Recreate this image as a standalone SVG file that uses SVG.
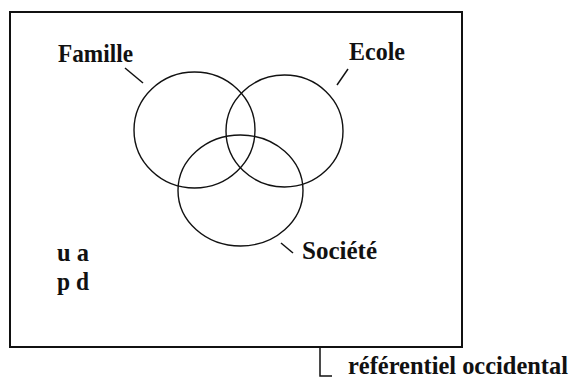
<svg xmlns="http://www.w3.org/2000/svg" width="573" height="378" viewBox="0 0 573 378">
<style>
.lbl{font-family:'Liberation Serif',serif;font-weight:bold;font-size:26px;fill:#111}
.set{fill:none;stroke:#111;stroke-width:1.4}
.tick{fill:none;stroke:#111;stroke-width:1.5}
.frame{fill:none;stroke:#111;stroke-width:2}
</style>
<rect width="573" height="378" fill="#fff"/>
<g id="frame"><rect class="frame" x="10" y="12" width="452" height="335"/></g>
<g id="famille">
<ellipse class="set" cx="194.5" cy="130" rx="60.5" ry="58"/>
<text class="lbl" x="58" y="62" textLength="75" lengthAdjust="spacingAndGlyphs">Famille</text>
</g>
<g id="ecole">
<ellipse class="set" cx="284.5" cy="131" rx="58.5" ry="56"/>
<text class="lbl" x="349" y="60" textLength="56" lengthAdjust="spacingAndGlyphs">Ecole</text>
</g>
<g id="societe">
<ellipse class="set" cx="240.5" cy="190.5" rx="62.5" ry="55.5"/>
<text class="lbl" x="302" y="259" textLength="75" lengthAdjust="spacingAndGlyphs">Société</text>
</g>
<g id="legend">
<text class="lbl" x="57" y="261" textLength="32" lengthAdjust="spacingAndGlyphs">u a</text>
<text class="lbl" x="57" y="290" textLength="32" lengthAdjust="spacingAndGlyphs">p d</text>
</g>
<g id="referentiel">
<text class="lbl" x="348" y="374" textLength="220" lengthAdjust="spacingAndGlyphs">référentiel occidental</text>
</g>
<g id="connectors">
<line class="tick" x1="125" y1="68" x2="143" y2="83"/>
<line class="tick" x1="348" y1="69" x2="337" y2="85"/>
<line class="tick" x1="281" y1="243" x2="293" y2="253"/>
<polyline class="tick" points="320,347 320,376 332,376"/>
</g>
</svg>
